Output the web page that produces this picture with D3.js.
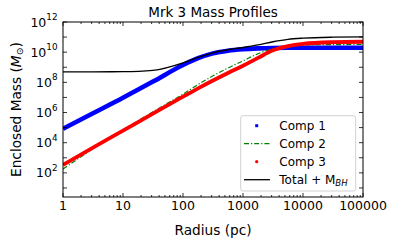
<!DOCTYPE html>
<html>
<head>
<meta charset="utf-8">
<script src="https://cdn.jsdelivr.net/npm/d3@7"></script>
<style>
  html, body { margin: 0; padding: 0; background: #fff; }
  svg { display: block; font-family: "DejaVu Sans", sans-serif; }
</style>
</head>
<body>
<svg id="chart" width="394" height="244"></svg>
<script>
// Radius in pc
const radius = [1, 3.16, 10, 31.6, 100, 178, 316, 562, 1000, 1778, 3162, 5623, 10000, 31623, 100000];
// Enclosed mass (M_sun)
const comp1 = [8.3e4, 8.9e5, 9.5e6, 1.12e8, 1.41e9, 3.98e9, 8.3e9, 1.26e10, 1.58e10, 1.78e10, 1.9e10, 1.95e10, 1.95e10, 1.95e10, 1.95e10];
const comp2 = [178, 3980, 7.1e4, 1.12e6, 1.66e7, 7.1e7, 2.7e8, 8.9e8, 2.63e9, 7.9e9, 1.66e10, 2.51e10, 2.95e10, 3.16e10, 3.24e10];
const comp3 = [339, 4680, 6.3e4, 8.5e5, 1.12e7, 3.98e7, 1.32e8, 4.17e8, 1.26e9, 4.17e9, 1.32e10, 2.51e10, 3.55e10, 4.57e10, 4.9e10];
const total = [5.0e8, 5.0e8, 5.1e8, 6.2e8, 1.95e9, 4.6e9, 9.1e9, 1.45e10, 2.04e10, 3.02e10, 4.9e10, 7.1e10, 8.5e10, 9.8e10, 1.02e11];

const xMajorTicks = [1, 10, 100, 1000, 10000, 100000];
const xTickLabels = ["1", "10", "100", "1000", "10000", "100000"];
const yMajorExps = [2, 4, 6, 8, 10, 12];
const yTickExps = [1,2,3,4,5,6,7,8,9,10,11,12];

const title = "Mrk 3 Mass Profiles";
const seriesNames = ["Comp 1", "Comp 2", "Comp 3", "Total + M"];

const svg = d3.select("#chart");
const L = 63, R = 363, T = 22, B = 197;

const x = d3.scaleLog().domain([1, 1e5]).range([L, R]);
const y = d3.scaleLog().domain([Math.pow(10, 0.4), 1e12]).range([B, T]);

svg.append("defs").append("clipPath").attr("id", "clip")
  .append("rect").attr("x", L).attr("y", T).attr("width", R - L).attr("height", B - T);

const line = ys => d3.line()
  .x((d, i) => x(radius[i]))
  .y((d, i) => y(ys[i]))
  .curve(d3.curveMonotoneX)(ys);

const g = svg.append("g").attr("clip-path", "url(#clip)");
g.append("path").attr("d", line(comp1)).attr("fill", "none")
  .attr("stroke", "#0000ff").attr("stroke-width", 4.6);
g.append("path").attr("d", line(comp2)).attr("fill", "none")
  .attr("stroke", "#008000").attr("stroke-width", 1.2).attr("stroke-dasharray", "5,2,1.2,2");
g.append("path").attr("d", line(comp3)).attr("fill", "none")
  .attr("stroke", "#ff0000").attr("stroke-width", 3.8);
g.append("path").attr("d", line(total)).attr("fill", "none")
  .attr("stroke", "#000").attr("stroke-width", 1.3);

// Ticks (inward, all four sides)
const ax = svg.append("g").attr("stroke", "#000").attr("stroke-width", 0.8);
const minorX = [];
for (let e = 0; e < 5; e++) for (let m = 2; m <= 9; m++) minorX.push(m * Math.pow(10, e));
minorX.forEach(v => {
  ax.append("line").attr("x1", x(v)).attr("x2", x(v)).attr("y1", B).attr("y2", B - 2);
  ax.append("line").attr("x1", x(v)).attr("x2", x(v)).attr("y1", T).attr("y2", T + 2);
});
xMajorTicks.forEach(v => {
  ax.append("line").attr("x1", x(v)).attr("x2", x(v)).attr("y1", B).attr("y2", B - 4);
  ax.append("line").attr("x1", x(v)).attr("x2", x(v)).attr("y1", T).attr("y2", T + 4);
});
yTickExps.forEach(e => {
  const yy = y(Math.pow(10, e));
  ax.append("line").attr("x1", L).attr("x2", L + 4).attr("y1", yy).attr("y2", yy);
  ax.append("line").attr("x1", R).attr("x2", R - 4).attr("y1", yy).attr("y2", yy);
});

// Frame
svg.append("rect").attr("x", L).attr("y", T).attr("width", R - L).attr("height", B - T)
  .attr("fill", "none").attr("stroke", "#000").attr("stroke-width", 1);

// X tick labels
xMajorTicks.forEach((v, i) => {
  svg.append("text").attr("x", x(v)).attr("y", 209.5).attr("text-anchor", "middle")
    .attr("font-size", 12.5).attr("fill", "#000").text(xTickLabels[i]);
});
// Y tick labels
yMajorExps.forEach(e => {
  const yy = y(Math.pow(10, e));
  const t = svg.append("text").attr("x", 57.5).attr("y", yy + 4.5).attr("text-anchor", "end")
    .attr("font-size", 12.5).attr("fill", "#000");
  t.append("tspan").text("10");
  t.append("tspan").attr("dy", -6.5).attr("font-size", 8.8).text(String(e));
});

// Title and axis labels
svg.append("text").attr("x", (L + R) / 2).attr("y", 16.5).attr("text-anchor", "middle")
  .attr("font-size", 13.5).text(title);
svg.append("text").attr("x", (L + R) / 2).attr("y", 235).attr("text-anchor", "middle")
  .attr("font-size", 13.7).text("Radius (pc)");
const yl = svg.append("text").attr("transform", `translate(20.5,${(T + B) / 2}) rotate(-90)`)
  .attr("text-anchor", "middle").attr("font-size", 13.7);
yl.append("tspan").text("Enclosed Mass (");
yl.append("tspan").attr("font-style", "italic").text("M");
yl.append("tspan").attr("dy", 2.5).attr("font-size", 9.5).text("⊙");
yl.append("tspan").attr("dy", -2.5).text(")");

// Legend
const lg = svg.append("g");
lg.append("rect").attr("x", 240.7).attr("y", 115.7).attr("width", 115).attr("height", 75.3)
  .attr("rx", 2.5).attr("fill", "#fff").attr("fill-opacity", 0.85).attr("stroke", "#cccccc").attr("stroke-width", 0.9);
const rowY = [125.7, 143.7, 161.7, 179.7];
lg.append("rect").attr("x", 255.2).attr("y", rowY[0] - 1.5).attr("width", 3).attr("height", 3).attr("fill", "#0000ff");
lg.append("line").attr("x1", 244).attr("x2", 270).attr("y1", rowY[1]).attr("y2", rowY[1])
  .attr("stroke", "#008000").attr("stroke-width", 1.2).attr("stroke-dasharray", "5,2,1.2,2");
lg.append("circle").attr("cx", 256.7).attr("cy", rowY[2]).attr("r", 1.6).attr("fill", "#ff0000");
lg.append("line").attr("x1", 244).attr("x2", 270).attr("y1", rowY[3]).attr("y2", rowY[3])
  .attr("stroke", "#000").attr("stroke-width", 1.3);
seriesNames.forEach((n, i) => {
  const t = lg.append("text").attr("x", 279.3).attr("y", rowY[i] + 4.3).attr("font-size", 12).text(n);
  if (i === 3) {
    t.append("tspan").attr("dy", 2).attr("font-size", 8.5).attr("font-style", "italic").text("BH");
  }
});
</script>
</body>
</html>
